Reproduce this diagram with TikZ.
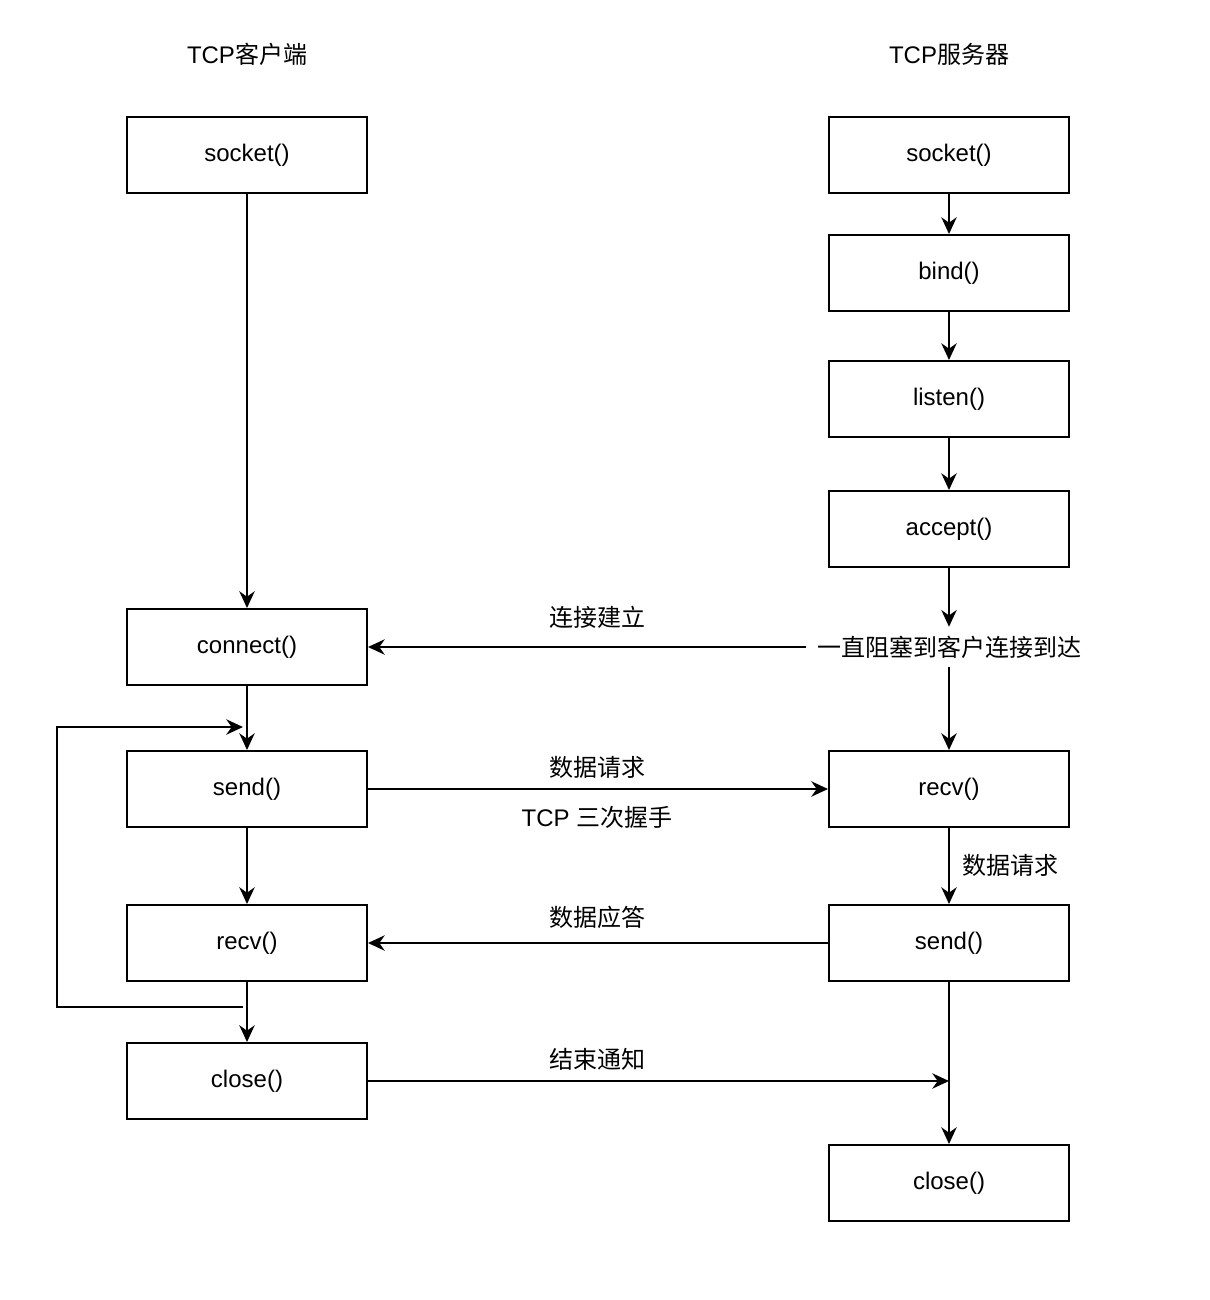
\documentclass[tikz,border=0pt]{standalone}
\usepackage{fontspec}
\setmainfont{Liberation Sans}
\newfontfamily\cjk{Noto Sans CJK SC}
\usetikzlibrary{arrows.meta}
\newcommand{\zh}[1]{{\cjk #1}}
\begin{document}
\begin{tikzpicture}[x=0.75pt,y=-0.75pt,
  font=\fontsize{18pt}{22pt}\selectfont,
  box/.style={draw,line width=1.5pt,minimum width=180pt,minimum height=57pt,inner sep=0},
  arr/.style={line width=1.5pt,-{Stealth[length=12.5pt,width=11.5pt,inset=4pt]}},
  ln/.style={line width=1.5pt},
  lbl/.style={inner sep=0}]
\useasboundingbox[fill=white] (0,0) rectangle (1210,1300);

% titles
\node[lbl] (tl) at (247,54) {TCP\zh{客户端}};
\node[lbl] (tr) at (949,54) {TCP\zh{服务器}};

% client
\node[box] (lsock)  at (247,155)  {socket()};
\node[box] (lconn)  at (247,647)  {connect()};
\node[box] (lsend)  at (247,789)  {send()};
\node[box] (lrecv)  at (247,943)  {recv()};
\node[box] (lclose) at (247,1081) {close()};

% server
\node[box] (rsock)   at (949,155)  {socket()};
\node[box] (rbind)   at (949,273)  {bind()};
\node[box] (rlisten) at (949,399)  {listen()};
\node[box] (raccept) at (949,529)  {accept()};
\node[lbl,inner xsep=8pt,minimum height=30pt] (block) at (949,647) {\zh{一直阻塞到客户连接到达}};
\node[box] (rrecv)   at (949,789)  {recv()};
\node[box] (rsend)   at (949,943)  {send()};
\node[box] (rclose)  at (949,1183) {close()};

% labels
\node[lbl] (l1) at (597,617) {\zh{连接建立}};
\node[lbl] (l2) at (597,767) {\zh{数据请求}};
\node[lbl] (l3) at (597,817) {TCP \zh{三次握手}};
\node[lbl] (l4) at (1010,865) {\zh{数据请求}};
\node[lbl] (l5) at (597,917) {\zh{数据应答}};
\node[lbl] (l6) at (597,1059) {\zh{结束通知}};

% client flow
\draw[arr] (lsock) -- (lconn);
\draw[arr] (lconn) -- (lsend);
\draw[arr] (lsend) -- (lrecv);
\draw[arr] (lrecv) -- (lclose);
\coordinate (loopA) at (243,1007);
\coordinate (loopB) at (243,727);
\draw[arr] (loopA) -- (57,1007) |- (loopB);

% server flow
\draw[arr] (rsock) -- (rbind);
\draw[arr] (rbind) -- (rlisten);
\draw[arr] (rlisten) -- (raccept);
\draw[arr] (raccept) -- (block.north);
\draw[arr] (block.south) -- (rrecv);
\draw[arr] (rrecv) -- (rsend);
\draw[arr] (rsend) -- (rclose);

% cross
\draw[arr] (block.west) -- (lconn.east);
\draw[arr] (lsend) -- (rrecv);
\draw[arr] (rsend) -- (lrecv);
\draw[arr] (lclose.east) -- (lclose.east -| rsend.south);
\end{tikzpicture}
\end{document}
